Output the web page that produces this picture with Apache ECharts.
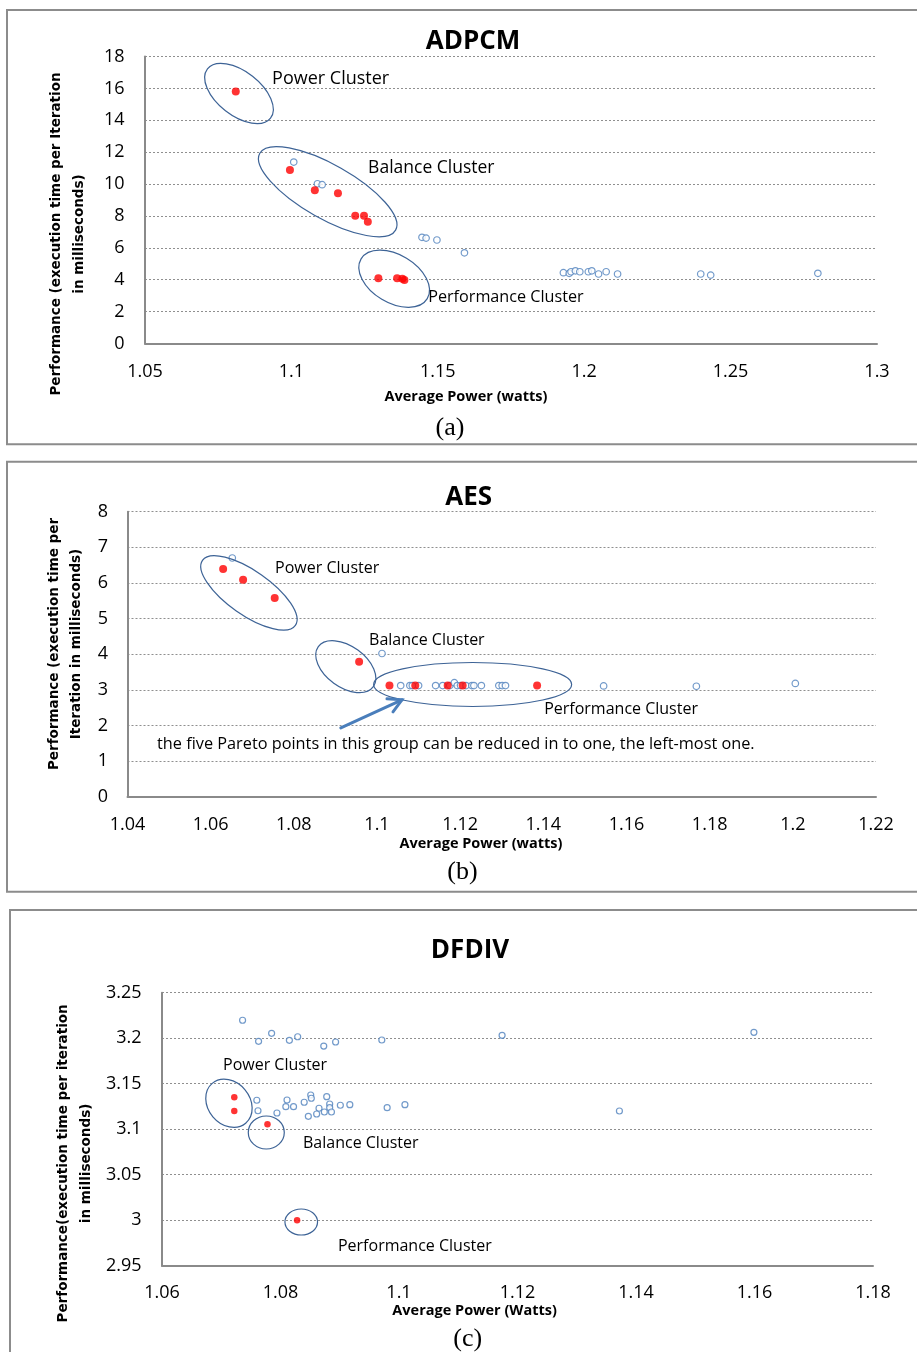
<!DOCTYPE html>
<html><head><meta charset="utf-8">
<script src="https://cdn.jsdelivr.net/npm/echarts@6/dist/echarts.min.js"></script>
<style>html,body{margin:0;padding:0;background:#fff}#c{width:917px;height:1352px}</style>
</head><body><div id="c"></div>
<script>
// ---------- data ----------
const adpcmXTicks = [1.05, 1.1, 1.15, 1.2, 1.25, 1.3];
const adpcmYTicks = [0, 2, 4, 6, 8, 10, 12, 14, 16, 18];
const adpcmPareto = [[1.081,15.81],[1.0995,10.88],[1.108,9.61],[1.1159,9.42],[1.1218,8.01],[1.1248,8.01],[1.1261,7.64],[1.1297,4.09],[1.1361,4.09],[1.1379,4.06],[1.1386,3.98]];
const adpcmOther = [[1.1008,11.38],[1.1089,10.02],[1.1105,9.96],[1.1446,6.66],[1.146,6.61],[1.1497,6.49],[1.1591,5.69],[1.1929,4.44],[1.1949,4.40],[1.1955,4.50],[1.197,4.56],[1.1985,4.50],[1.2014,4.50],[1.2026,4.56],[1.2049,4.36],[1.2075,4.50],[1.2114,4.36],[1.2398,4.36],[1.2432,4.29],[1.2798,4.40]];

const aesXTicks = [1.04, 1.06, 1.08, 1.1, 1.12, 1.14, 1.16, 1.18, 1.2, 1.22];
const aesYTicks = [0, 1, 2, 3, 4, 5, 6, 7, 8];
const aesPareto = [[1.063,6.39],[1.0678,6.09],[1.0754,5.58],[1.0957,3.79],[1.103,3.12],[1.1092,3.12],[1.117,3.12],[1.1206,3.12],[1.1385,3.12]];
const aesOther = [[1.0652,6.70],[1.1012,4.02],[1.1057,3.12],[1.1079,3.12],[1.1085,3.12],[1.110,3.12],[1.1141,3.12],[1.1158,3.12],[1.1175,3.12],[1.1186,3.20],[1.1193,3.12],[1.1201,3.12],[1.1214,3.12],[1.1228,3.12],[1.1233,3.12],[1.1251,3.12],[1.1293,3.12],[1.1301,3.12],[1.1309,3.12],[1.1545,3.11],[1.1768,3.10],[1.2006,3.18]];

const dfdivXTicks = [1.06, 1.08, 1.1, 1.12, 1.14, 1.16, 1.18];
const dfdivYTicks = [2.95, 3, 3.05, 3.1, 3.15, 3.2, 3.25];
const dfdivPareto = [[1.0722,3.135],[1.0722,3.12],[1.0778,3.1054],[1.0828,3.0]];
const dfdivOther = [[1.0736,3.2197],[1.0763,3.1966],[1.0785,3.2054],[1.0815,3.1977],[1.0829,3.2016],[1.0873,3.1914],[1.0893,3.1958],[1.0971,3.198],[1.1174,3.2032],[1.1599,3.2065],[1.076,3.1318],[1.0762,3.1203],[1.0794,3.1178],[1.0811,3.1321],[1.0809,3.1247],[1.0822,3.1247],[1.084,3.1296],[1.0851,3.1376],[1.0852,3.134],[1.0847,3.1142],[1.0865,3.123],[1.0861,3.1167],[1.0874,3.1189],[1.0878,3.1357],[1.0883,3.1277],[1.0883,3.1236],[1.0886,3.1189],[1.0901,3.1263],[1.0917,3.1269],[1.098,3.1236],[1.101,3.1269],[1.1372,3.12]];

const chartTitles = ['ADPCM', 'AES', 'DFDIV'];
const xNames = ['Average Power (watts)', 'Average Power (watts)', 'Average Power (Watts)'];
const yNames = ['Performance (execution time per Iteration\nin milliseconds)', 'Performance (execution time per\nIteration in milliseconds)', 'Performance(execution time per iteration\nin milliseconds)'];
const captions = ['(a)', '(b)', '(c)'];
const clusterNames = ['Power Cluster', 'Balance Cluster', 'Performance Cluster'];
const noteText = 'the five Pareto points in this group can be reduced in to one, the left-most one.';

// ---------- annotation placement (data coords of each panel) ----------
const ellipses = [
  {g:0, at:[1.0821,15.68], rx:40, ry:22, tilt:38},
  {g:0, at:[1.1124,9.52], rx:78, ry:27, tilt:29.5},
  {g:0, at:[1.1351,4.06], rx:38.6, ry:24, tilt:31},
  {g:1, at:[1.0692,5.72], rx:56.7, ry:22, tilt:35},
  {g:1, at:[1.0925,3.65], rx:34, ry:20.5, tilt:36},
  {g:1, at:[1.123,3.15], rx:99, ry:22, tilt:0},
  {g:2, at:[1.0713,3.1285], rx:26, ry:21, tilt:50},
  {g:2, at:[1.0776,3.0964], rx:18, ry:16.5, tilt:0},
  {g:2, at:[1.0835,2.998], rx:16.3, ry:13, tilt:0}
];
const labelSpots = [
  {g:0, i:0, at:[1.0934,16.58], size:18},
  {g:0, i:1, at:[1.1262,11.0], size:17.5},
  {g:0, i:2, at:[1.1467,2.92], size:16.2},
  {g:1, i:0, at:[1.0755,6.42], size:16},
  {g:1, i:1, at:[1.0981,4.40], size:16},
  {g:1, i:2, at:[1.1402,2.44], size:16},
  {g:2, i:0, at:[1.0703,3.1706], size:16},
  {g:2, i:1, at:[1.0838,3.0848], size:16},
  {g:2, i:2, at:[1.0897,2.9716], size:16}
];
const noteSpot = {g:1, at:[1.0471,1.48]};
const arrowSpot = {g:1, from:[1.0913,1.93], to:[1.106,2.72]};

// ---------- layout ----------
const FONT = "'Open Sans', 'Liberation Sans', sans-serif";
const grids = [
  {left:145, top:56.5, width:732, height:287},
  {left:127.5, top:511.7, width:748.5, height:285},
  {left:162, top:992.7, width:711, height:273}
];
const xLabelMargin = [19.5, 19.3, 18.3];
const yLabelMargin = [20.4, 19.5, 20.5];
const fmt = v => String(+(+v).toFixed(4));
const step = t => +(t[1] - t[0]).toFixed(6);
const axisLineStyle = {color:'#8a8a8a', width:2};

const xTicks = [adpcmXTicks, aesXTicks, dfdivXTicks];
const yTicks = [adpcmYTicks, aesYTicks, dfdivYTicks];

const option = {
  animation: false,
  backgroundColor: '#ffffff',
  grid: grids.map(g => Object.assign({outerBoundsMode:'none', containLabel:false}, g)),
  xAxis: xTicks.map((t, i) => ({
    gridIndex: i, type: 'value', min: t[0], max: t[t.length-1], interval: step(t),
    axisLine: {show: true, onZero: false, lineStyle: axisLineStyle},
    axisTick: {show: false},
    splitLine: {show: false},
    axisLabel: {margin: xLabelMargin[i], color: '#000', fontSize: 18, fontFamily: FONT, formatter: fmt}
  })),
  yAxis: yTicks.map((t, i) => ({
    gridIndex: i, type: 'value', min: t[0], max: t[t.length-1], interval: step(t),
    axisLine: {show: true, onZero: false, lineStyle: axisLineStyle},
    axisTick: {show: false},
    splitLine: {show: true, lineStyle: {type: [2, 2], color: '#8f8f8f', width: 1}},
    axisLabel: {margin: yLabelMargin[i], color: '#000', fontSize: 18, fontFamily: FONT, formatter: fmt}
  })),
  series: []
};

const others = [adpcmOther, aesOther, dfdivOther];
const paretos = [adpcmPareto, aesPareto, dfdivPareto];
const hollowSize = [6.5, 6.5, 6];
const redSize = [8, 8, 6.5];
for (let i = 0; i < 3; i++) {
  option.series.push({
    type: 'scatter', name: 'configs', xAxisIndex: i, yAxisIndex: i, data: others[i],
    symbol: 'circle', symbolSize: hollowSize[i], z: 2,
    itemStyle: {color: '#ffffff', borderColor: '#4f81bd', borderWidth: 1.2}
  });
  option.series.push({
    type: 'scatter', name: 'pareto', xAxisIndex: i, yAxisIndex: i, data: paretos[i],
    symbol: 'circle', symbolSize: redSize[i], z: 3,
    itemStyle: {color: '#ff0000'}
  });
}

const chart = echarts.init(document.getElementById('c'), null, {renderer: 'canvas'});
chart.setOption(option);

// ---------- graphic layer ----------
const px = (g, pt) => chart.convertToPixel({gridIndex: g}, pt);
const els = [];
function text(x, y, str, o) {
  els.push({
    type: 'text', x: x, y: y, rotation: o.rotation || 0, z: 10,
    style: {
      text: str, fill: o.color || '#000', fontSize: o.size, fontFamily: o.family || FONT,
      fontWeight: o.weight || 'normal', lineHeight: o.lineHeight,
      align: o.align || 'center', verticalAlign: 'middle',
      textAlign: o.align || 'center', textVerticalAlign: 'middle'
    }
  });
}
// frames
[[7, 10, 940, 434.3], [7, 461.7, 940, 430], [10, 910, 940, 470]].forEach(r => {
  els.push({type:'rect', z: 1, shape:{x:r[0], y:r[1], width:r[2], height:r[3]}, style:{fill:'none', stroke:'#8c8c8c', lineWidth:2}});
});
// titles
const titlePos = [[473, 42], [468.6, 497.5], [470, 951]];
chartTitles.forEach((t, i) => text(titlePos[i][0], titlePos[i][1], t, {size: 26, weight: 'bold'}));
// axis names
const xNamePos = [[466, 396.5], [481, 844], [474.6, 1311]];
xNames.forEach((t, i) => text(xNamePos[i][0], xNamePos[i][1], t, {size: 14.5, weight: 'bold'}));
const yNamePos = [[68, 234], [65.2, 644], [74.8, 1163.4]];
const yNameLH = [23.5, 21.6, 23.5];
yNames.forEach((t, i) => text(yNamePos[i][0], yNamePos[i][1], t, {size: 13.5, weight: 'bold', family: "'DejaVu Sans', Verdana, sans-serif", rotation: Math.PI/2, lineHeight: yNameLH[i]}));
// captions
const capPos = [[450, 428], [462.5, 871.7], [467.8, 1339]];
captions.forEach((t, i) => text(capPos[i][0], capPos[i][1], t, {size: 26, family: "'Liberation Serif', 'Times New Roman', serif"}));
// ellipses
ellipses.forEach(e => {
  const p = px(e.g, e.at);
  els.push({type:'ellipse', x:p[0], y:p[1], rotation: -e.tilt * Math.PI / 180, z: 5,
    shape:{cx:0, cy:0, rx:e.rx, ry:e.ry}, style:{fill:'none', stroke:'#3d6396', lineWidth:1.2}});
});
// cluster labels
labelSpots.forEach(l => {
  const p = px(l.g, l.at);
  text(p[0], p[1], clusterNames[l.i], {size: l.size, align: 'left'});
});
// note
(function(){
  const p = px(noteSpot.g, noteSpot.at);
  text(p[0], p[1], noteText, {size: 16.3, align: 'left'});
  const a = px(arrowSpot.g, arrowSpot.from), b = px(arrowSpot.g, arrowSpot.to);
  const ang = Math.atan2(b[1] - a[1], b[0] - a[0]);
  const L = 15, spread = 0.5;
  const h1 = [b[0] - L * Math.cos(ang - spread), b[1] - L * Math.sin(ang - spread)];
  const h2 = [b[0] - L * Math.cos(ang + spread), b[1] - L * Math.sin(ang + spread)];
  const st = {stroke:'#4a7ebb', lineWidth:3, fill:'none', lineCap:'round', lineJoin:'miter'};
  els.push({type:'line', z: 6, shape:{x1:a[0], y1:a[1], x2:b[0], y2:b[1]}, style: st});
  els.push({type:'polyline', z: 6, shape:{points:[h1, b, h2]}, style: st});
})();

chart.setOption({graphic: {elements: els}});
</script>
</body></html>
